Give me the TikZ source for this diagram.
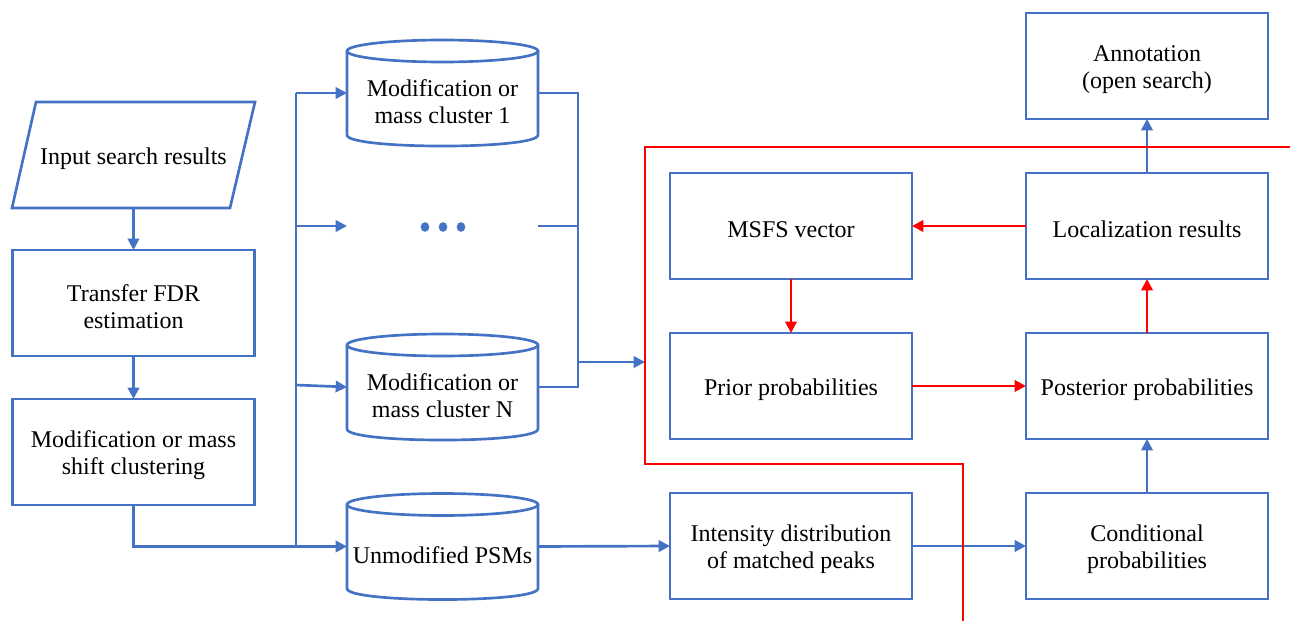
\documentclass[tikz,border=0pt]{standalone}
\usepackage{fontspec}
\setmainfont{Liberation Serif}
\usetikzlibrary{arrows.meta}
\definecolor{bl}{HTML}{4472C4}
\definecolor{rd}{HTML}{FF0000}
\newcommand\drawcyl[2]{%
  \draw[ln] (#1,#2-42) ellipse [x radius=95.5, y radius=11];
  \draw[ln] (#1-95.5,#2-42) -- (#1-95.5,#2+42) .. controls (#1-95.5,#2+56.7) and (#1+95.5,#2+56.7) .. (#1+95.5,#2+42) -- (#1+95.5,#2-42);
}
\begin{document}
\begin{tikzpicture}[x=0.75pt,y=-0.75pt,
  lbl/.style={align=center, font=\fontsize{18}{20.3}\selectfont, inner sep=0pt, outer sep=0pt},
  tx/.style={label={[lbl,yshift=-2.6pt]center:{#1}}},
  ctx/.style={label={[lbl,yshift=-6.8pt]center:{#1}}},
  box/.style={draw=bl, line width=2pt, minimum width=181.5pt, minimum height=79.5pt, inner sep=0pt, outer sep=0pt},
  cyl/.style={minimum width=143.25pt, minimum height=79.5pt, inner sep=0pt, outer sep=0pt},
  ln/.style={draw=bl, line width=2pt},
  ar/.style={ln, -{Triangle[length=8.5pt,width=8.5pt]}},
  rln/.style={draw=rd, line width=2pt},
  rar/.style={rln, -{Triangle[length=8.5pt,width=8.5pt]}}]
\useasboundingbox (0,0) rectangle (1290,621);

% left column
\node[cyl, tx={Input search results}] (input) at (133.5,155) {};
\draw[ln] (36,102) -- (255,102) -- (230,208) -- (12,208) -- cycle;
\node[box, tx={Transfer FDR\\estimation}] (fdr) at (133.5,303) {};
\node[box, tx={Modification or mass\\shift clustering}] (clus) at (133.5,452) {};

% cylinders
\drawcyl{442.5}{93}
\node[cyl, ctx={Modification or\\mass cluster 1}] (c1) at (442.5,93) {};
\node[cyl] (dots) at (442.5,226) {};
\fill[bl] (425,227) ellipse [x radius=4.3, y radius=4.8] (443,227) ellipse [x radius=4.3, y radius=4.8] (461,227) ellipse [x radius=4.3, y radius=4.8];
\drawcyl{442.5}{387}
\node[cyl, ctx={Modification or\\mass cluster N}] (cN) at (442.5,387) {};
\drawcyl{442.5}{546.5}
\node[cyl, ctx={Unmodified PSMs}] (unmod) at (442.5,546.5) {};

% right boxes
\node[box, tx={MSFS vector}] (msfs) at (791,226) {};
\node[box, tx={Prior probabilities}] (prior) at (791,386) {};
\node[box, tx={Intensity distribution\\of matched peaks}] (int) at (791,546) {};
\node[box, tx={Annotation\\(open search)}] (ann) at (1147,66) {};
\node[box, tx={Localization results}] (loc) at (1147,226) {};
\node[box, tx={Posterior probabilities}] (post) at (1147,386) {};
\node[box, tx={Conditional\\probabilities}] (cond) at (1147,546) {};

% coordinates
\coordinate (j0) at (296,546.5);
\coordinate (j1) at (296,93);
\coordinate (jd) at (296,226);
\coordinate (jn) at (296,385);
\coordinate (kt) at (578,93);
\coordinate (kd) at (578,226);
\coordinate (kb) at (578,387);
\coordinate (km) at (578,362);
\coordinate (rin) at (645,362);

% blue connectors
\draw[ar] (input.south) -- (fdr.north);
\draw[ar] (fdr.south) -- (clus.north);
\draw[ar] (clus.south) |- (unmod.west);
\draw[ln] (j0) -- (j1);
\draw[ar] (j1) -- (c1.west);
\draw[ar] (jd) -- (dots.west);
\draw[ar] (jn) -- (cN.west);
\draw[ln] (c1.east) -- (kt) -- (kb) -- (cN.east);
\draw[ln] (dots.east) -- (kd);
\draw[ar] (km) -- (rin);
\draw[ar] (unmod.east) -- (int.west);
\draw[ar] (int.east) -- (cond.west);
\draw[ar] (cond.north) -- (post.south);
\draw[ar] (loc.north) -- (ann.south);

% red boundary
\draw[rln] (1290,147) -- (645,147) -- (645,464) -- (963,464) -- (963,621);

% red connectors
\draw[rar] (loc.west) -- (msfs.east);
\draw[rar] (msfs.south) -- (prior.north);
\draw[rar] (prior.east) -- (post.west);
\draw[rar] (post.north) -- (loc.south);
\end{tikzpicture}
\end{document}
